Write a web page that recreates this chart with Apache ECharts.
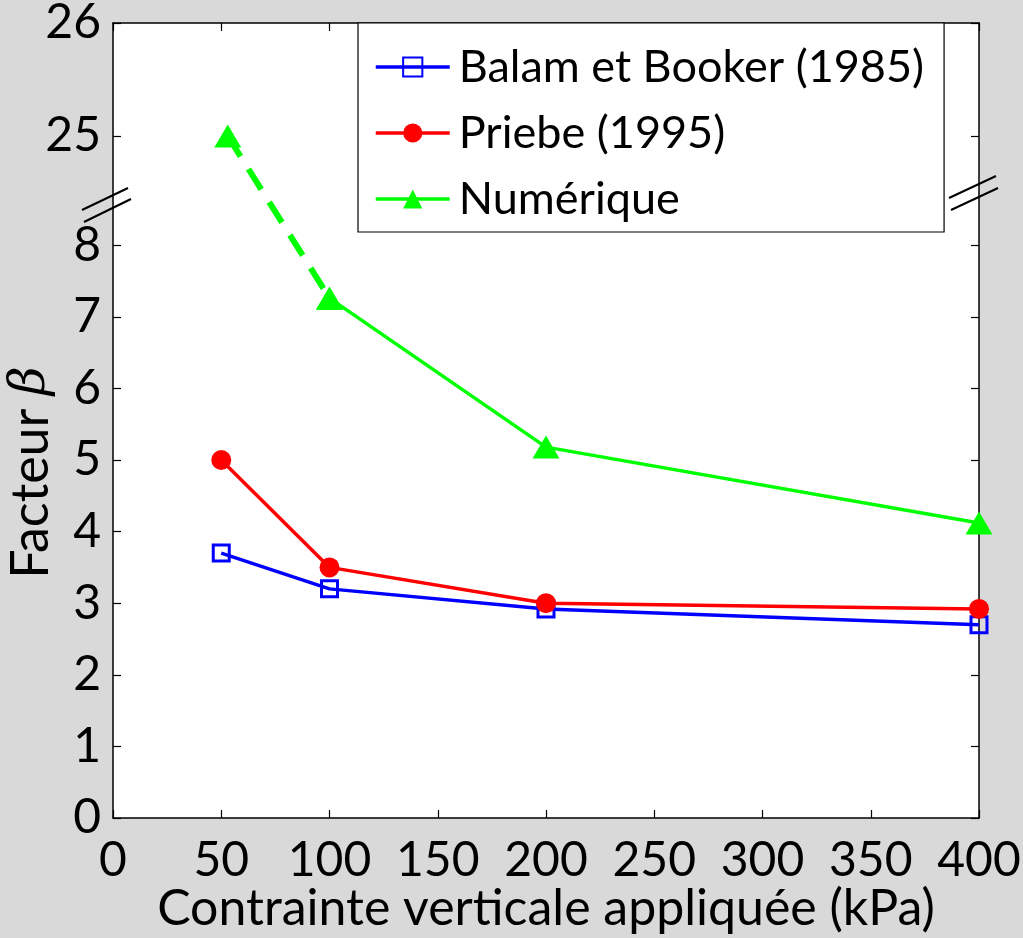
<!DOCTYPE html>
<html>
<head>
<meta charset="utf-8">
<script src="https://cdn.jsdelivr.net/npm/echarts@6/dist/echarts.min.js"></script>
<style>
html,body{margin:0;padding:0;background:#d9d9d9;}
#chart{width:1023px;height:938px;}
</style>
</head>
<body>
<div id="chart"></div>
<script>
// ---- data ----
const pressures = [50, 100, 200, 400];
const balamBooker = [3.70, 3.20, 2.92, 2.70];
const priebe = [5.00, 3.50, 3.00, 2.92];
const numeriqueX = [53, 100, 200, 400];
const numerique = [25.0, 7.26, 5.18, 4.12];
const xTicks = [0, 50, 100, 150, 200, 250, 300, 350, 400];
const yTicksLower = [0, 1, 2, 3, 4, 5, 6, 7, 8];
const yTicksUpper = [25, 26];
const seriesNames = ['Balam et Booker (1985)', 'Priebe (1995)', 'Numérique'];

// ---- broken axis transform (lower part 0..8, upper part 25..26 with its own scale) ----
const UPPER_BASE = 9.525;   // display position of value 25
const UPPER_SCALE = 1.578;  // display units per unit above the break
function toDisp(v) { return v <= 12 ? v : UPPER_BASE + (v - 25) * UPPER_SCALE; }
function fromDisp(d) { return d <= 9 ? d : 25 + (d - UPPER_BASE) / UPPER_SCALE; }
const yTickDisp = yTicksLower.map(toDisp).concat(yTicksUpper.map(toDisp));
const yMax = toDisp(26);

const pts = (xs, ys) => xs.map((x, i) => [x, toDisp(ys[i])]);
const numPts = pts(numeriqueX, numerique);

const FONT = 'Lato';
const chart = echarts.init(document.getElementById('chart'), null, {renderer: 'canvas'});

const baseX = {
  type: 'value', min: 0, max: 400, interval: 50,
  axisLine: {show: true, onZero: false, lineStyle: {color: '#000', width: 1.5}},
  axisTick: {show: true, inside: true, length: 8, lineStyle: {color: '#000', width: 1.2}},
  splitLine: {show: false}
};
const baseY = {
  type: 'value', min: 0, max: yMax,
  axisLine: {show: true, onZero: false, lineStyle: {color: '#000', width: 1.5}},
  axisTick: {show: true, inside: true, length: 8, customValues: yTickDisp, lineStyle: {color: '#000', width: 1.2}},
  splitLine: {show: false}
};

const option = {
  backgroundColor: '#d9d9d9',
  animation: false,
  grid: {left: 113, right: 44, top: 23, bottom: 120, show: true, backgroundColor: '#fff', borderWidth: 0,
         containLabel: false, outerBoundsMode: 'none'},
  legend: {
    orient: 'vertical', left: 358, top: 23,
    data: seriesNames,
    backgroundColor: '#fff', borderColor: '#000', borderWidth: 1.2, borderRadius: 0,
    padding: [21, 20, 10, 16],
    itemWidth: 74, itemHeight: 24, itemGap: 20,
    lineStyle: {width: 3.5},
    textStyle: {fontFamily: FONT, fontSize: 45, color: '#000', lineHeight: 46, padding: [0, 0, 0, 4]}
  },
  xAxis: [
    Object.assign({}, baseX, {
      position: 'bottom',
      axisLabel: {show: true, fontFamily: FONT, fontSize: 48, color: '#000', margin: 19,
        customValues: xTicks},
      name: 'Contrainte verticale appliquée (kPa)', nameLocation: 'middle', nameGap: 66,
      nameMoveOverlap: false,
      nameTextStyle: {fontFamily: FONT, fontSize: 50, color: '#000'}
    }),
    Object.assign({}, baseX, {position: 'top', axisLabel: {show: false}})
  ],
  yAxis: [
    Object.assign({}, baseY, {
      position: 'left',
      axisLabel: {show: true, fontFamily: FONT, fontSize: 48, color: '#000', margin: 12,
        customValues: yTickDisp,
        formatter: v => String(Math.round(fromDisp(v)))},
      name: '{a|Facteur }{b|β}', nameLocation: 'middle', nameGap: 56, nameRotate: 90,
      nameMoveOverlap: false,
      nameTextStyle: {color: '#000', padding: [0, 104, 0, 0], rich: {
        a: {fontFamily: FONT, fontSize: 52, color: '#000'},
        b: {fontFamily: 'DejaVu Serif', fontStyle: 'italic', fontSize: 50, color: '#000'}
      }}
    }),
    Object.assign({}, baseY, {position: 'right', axisLabel: {show: false}})
  ],
  series: [
    {
      name: seriesNames[2] + ' ', type: 'line', xAxisIndex: 0, yAxisIndex: 0,
      data: numPts.slice(0, 2), symbol: 'triangle', symbolSize: [27, 23],
      lineStyle: {color: '#00ff00', width: 6, type: [24, 15]},
      itemStyle: {color: '#00ff00'}, z: 3, silent: true
    },
    {
      name: seriesNames[0], type: 'line', data: pts(pressures, balamBooker),
      symbol: 'rect', symbolSize: 16,
      lineStyle: {color: '#0000ff', width: 3.5},
      itemStyle: {color: 'rgba(255,255,255,0)', borderColor: '#0000ff', borderWidth: 3},
      z: 4
    },
    {
      name: seriesNames[1], type: 'line', data: pts(pressures, priebe),
      symbol: 'circle', symbolSize: 20,
      lineStyle: {color: '#ff0000', width: 3.5},
      itemStyle: {color: '#ff0000'}, z: 5
    },
    {
      name: seriesNames[2], type: 'line', data: numPts.slice(1),
      symbol: 'triangle', symbolSize: [27, 23],
      lineStyle: {color: '#00ff00', width: 3.5},
      itemStyle: {color: '#00ff00'}, z: 6
    }
  ],
  graphic: [
    {type: 'line', shape: {x1: 82, y1: 210, x2: 128, y2: 188}, style: {stroke: '#000', lineWidth: 2}, z: 100},
    {type: 'line', shape: {x1: 84, y1: 222, x2: 131, y2: 199}, style: {stroke: '#000', lineWidth: 2}, z: 100},
    {type: 'line', shape: {x1: 949, y1: 198, x2: 996, y2: 176}, style: {stroke: '#000', lineWidth: 2}, z: 100},
    {type: 'line', shape: {x1: 951, y1: 210, x2: 998, y2: 188}, style: {stroke: '#000', lineWidth: 2}, z: 100}
  ]
};
chart.setOption(option);
</script>
</body>
</html>
